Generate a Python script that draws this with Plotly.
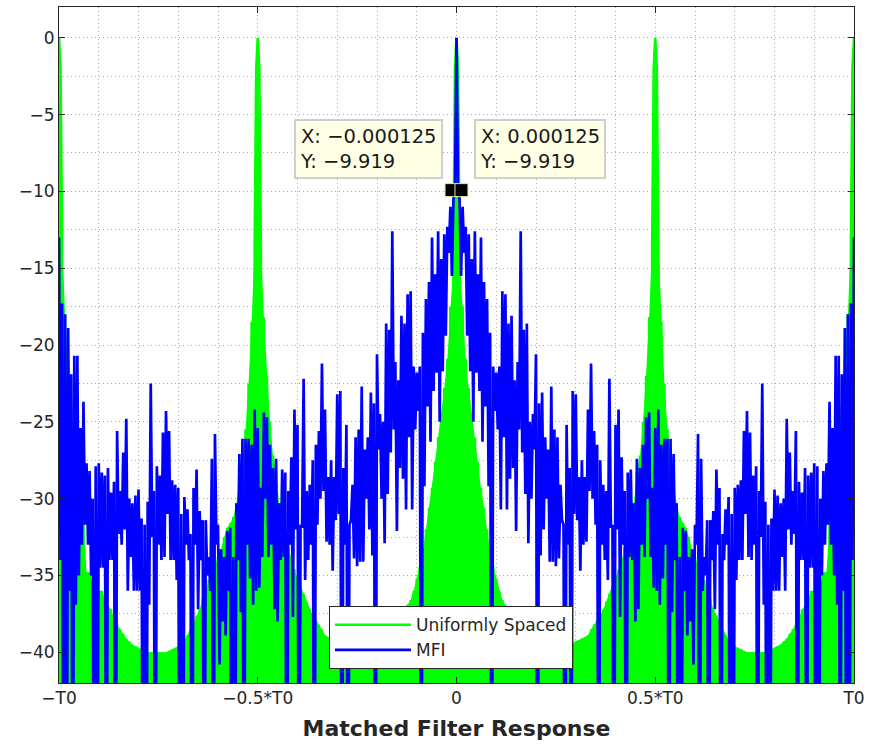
import numpy as np
import plotly.graph_objects as go

# ---------------- data ----------------
T0 = 0.01            # period shown on the x axis (s)
F = -60.0            # null depth (below the visible floor)

# MFI response, half from -T0 towards 0: local maxima and the minima between them
mfi_peaks = [
    -13.0, -17.3, -18.0, -18.9, -21.9, -20.7, -20.7, -25.4, -23.7, -27.7,
    -28.2, -30.0, -27.9, -27.7, -28.3, -28.5, -28.0, -29.6, -28.9, -25.6,
    -29.5, -27.0, -24.8, -30.0, -30.3, -29.8, -29.4, -31.3, -31.7, -30.2,
    -22.5, -29.5, -27.9, -28.5, -25.7, -24.3, -25.6, -28.8, -29.1, -29.3,
    -31.0, -29.9, -30.7, -32.3, -29.3, -28.1, -30.8, -31.4, -31.4, -33.8,
    -27.4, -25.8, -31.7, -33.3, -33.8, -32.1, -31.9, -33.8, -30.3, -27.1,
    -26.1, -26.1, -26.1, -26.5, -24.2, -25.4, -29.3, -24.4, -24.7, -26.5,
    -28.0, -27.4, -30.3, -28.1, -28.3, -29.5, -27.3, -24.2, -25.2, -31.7,
    -22.2, -29.5, -29.1, -27.5, -26.5, -25.6, -21.2, -24.2, -28.6, -27.5,
    -28.6, -23.2, -23.0, -28.0, -25.2, -31.7, -29.1, -26.0, -25.5, -22.7,
    -26.8, -26.0, -23.1, -23.8, -20.6, -24.5, -25.0, -18.6, -19.0, -12.6,
    -21.1, -22.3, -18.1, -18.6, -16.7, -16.5, -21.4, -21.8, -21.4, -19.2,
    -17.0, -15.9, -13.0, -15.4, -12.6, -14.4, -12.8, -12.3, -11.0, -10.5,
]
mfi_troughs = [
    -34.0, F, F, -36.0, F, -36.9, -35.0, -33.0, -31.7, -33.0,
    -35.0, F, F, -34.5, -34.5, F, -34.0, -34.0, F, -32.3,
    -33.0, -32.0, -36.0, -33.8, -36.0, -36.0, -36.0, F, F, -36.9,
    -32.5, F, -33.0, -34.0, -33.8, -31.0, -34.0, -34.0, -35.3, F,
    F, -33.0, -34.0, F, -33.0, -37.2, -34.0, F, -35.0, -36.0,
    F, -33.0, -40.8, -38.0, -38.9, -36.0, F, F, -34.0, -37.4,
    F, -33.0, -35.2, -36.9, -36.0, -35.8, -33.8, -30.0, -33.8, -33.0,
    -37.2, -38.0, -34.0, -33.8, F, -33.0, -37.7, -32.0, F, -31.9,
    -35.3, -34.0, -33.0, F, -31.7, -30.0, -29.5, -32.8, -33.0, -34.7,
    -31.4, -31.0, F, -33.0, F, -31.4, -33.9, -34.4, -34.1, -34.1,
    -30.0, -32.0, -33.7, F, -26.8, -30.0, -32.9, -29.7, -27.0, -25.5,
    -32.1, -28.0, -28.7, -30.7, -26.0, -30.7, -25.5, -24.3, F, -29.2,
    -24.0, -26.3, -23.0, -21.8, -25.0, -21.7, -19.4, -14.0, -15.5, -9.919,
]
mfi_center = 0.0

# Uniformly spaced response, same sampling
uni_peaks = [
    0.0, -13.4, -18.0, -21.0, -24.0, -27.0, -31.0, -32.0, -31.6, -34.8,
    -34.8, -35.5, -35.5, -36.0, -36.0, -36.5, -37.0, -37.2, -37.8, -38.2,
    -38.5, -38.8, -39.1, -39.3, -39.5, -39.6, -39.7, -39.8, -40.0, -40.0,
    -40.0, -40.0, -40.0, -40.0, -40.0, -40.0, -39.9, -39.8, -39.7, -39.6,
    -39.4, -39.2, -38.9, -38.5, -38.1, -37.6, -37.2, -36.5, -36.0, -35.3,
    -34.8, -34.3, -33.8, -33.3, -32.5, -31.9, -31.6, -31.2, -30.3, -29.0,
    -27.5, -25.5, -22.5, -18.5, -13.4, 0.0, -13.4, -18.2, -22.0, -25.0,
    -27.2, -28.3, -30.3, -31.7, -32.4, -33.2, -34.0, -34.6, -35.2, -35.7,
    -36.2, -36.7, -37.2, -37.6, -37.9, -38.2, -38.5, -38.9, -39.0, -39.1,
    -39.2, -39.3, -39.4, -39.5, -39.6, -39.7, -39.7, -39.7, -39.7, -39.6,
    -39.5, -39.4, -39.2, -39.0, -38.7, -38.4, -38.0, -37.8, -37.6, -37.5,
    -37.4, -37.3, -37.2, -37.1, -36.9, -36.6, -36.0, -35.2, -34.4, -33.4,
    -32.0, -30.6, -29.3, -27.6, -26.0, -24.5, -22.8, -20.9, -17.5, -14.7,
]
uni_troughs = [-2.0] + [F] * 63 + [-2.0, -2.0] + [F] * 63 + [-2.0]
uni_center = 0.0

# data tips
tip_x = [-0.000125, 0.000125]
tip_y = [-9.919, -9.919]
tip_text = ["X: \u22120.000125<br>Y: \u22129.919", "X: 0.000125<br>Y: \u22129.919"]

x_tickvals = [-T0, -0.5 * T0, 0, 0.5 * T0, T0]
x_ticktext = ["\u2212T0", "\u22120.5*T0", "0", "0.5*T0", "T0"]


def symmetric_series(peaks, troughs, center):
    half = [v for pair in zip(peaks, troughs) for v in pair]
    return half + [center] + half[::-1]


n_half = 2 * len(mfi_peaks)
dt = T0 / n_half
t = np.arange(-n_half, n_half + 1) * dt
y_uni = symmetric_series(uni_peaks, uni_troughs, uni_center)
y_mfi = symmetric_series(mfi_peaks, mfi_troughs, mfi_center)

# envelope of the dense green oscillation (its maxima), drawn as a filled band
y_env = list(uni_peaks) + [uni_center] + list(uni_peaks[::-1])
t_env = np.concatenate([t[0:n_half:2], [0.0], -t[0:n_half:2][::-1]])

# ---------------- figure ----------------
INK = "#262626"
GRID = "#ababab"
FONT = "DejaVu Sans"
GREEN = "#00ff00"
BLUE = "#0000ff"

fig = go.Figure()
# floor under the green band
fig.add_trace(go.Scatter(x=t, y=[F] * len(t), mode="lines", showlegend=False,
                         hoverinfo="skip", line=dict(width=0, color=GREEN)))
fig.add_trace(go.Scatter(x=t_env, y=y_env, mode="lines", showlegend=False,
                         hoverinfo="skip", fill="tonexty", fillcolor=GREEN,
                         line=dict(width=0, color=GREEN)))
fig.add_trace(go.Scatter(x=t, y=y_uni, mode="lines", name="Uniformly Spaced",
                         line=dict(color=GREEN, width=2.6)))
fig.add_trace(go.Scatter(x=t, y=y_mfi, mode="lines", name="MFI",
                         line=dict(color=BLUE, width=2.7)))
fig.add_trace(go.Scatter(x=tip_x, y=tip_y, mode="markers", showlegend=False,
                         marker=dict(symbol="square", size=13, color="black",
                                     line=dict(color="#e8e4b0", width=1))))

for i, (tx, ty, txt) in enumerate(zip(tip_x, tip_y, tip_text)):
    fig.add_annotation(
        x=(-0.00035 if i == 0 else 0.00043), y=-5.27, xref="x", yref="y",
        xanchor=("right" if i == 0 else "left"), yanchor="top",
        text=txt, showarrow=False, align="left",
        font=dict(family=FONT, size=19.5, color="#1a1a1a"),
        bgcolor="#ffffe6", bordercolor="#cfcfcf", borderwidth=2, borderpad=4,
    )

axis_common = dict(
    showline=True, linecolor=INK, linewidth=1, mirror="ticks",
    ticks="inside", ticklen=6, tickcolor=INK, tickwidth=1,
    showgrid=True, gridcolor=GRID, gridwidth=1, griddash="1px,3px",
    zeroline=False,
    tickfont=dict(family=FONT, size=17, color=INK),
)

fig.update_xaxes(
    range=[-T0, T0], tickmode="array", tickvals=x_tickvals, ticktext=x_ticktext,
    minor=dict(tick0=0, dtick=0.1 * T0, showgrid=True, gridcolor=GRID,
               griddash="1px,3px", gridwidth=1, ticks=""),
    title=dict(text="<b>Matched Filter Response</b>", standoff=13,
               font=dict(family=FONT, size=22, color=INK)),
    **axis_common,
)
fig.update_yaxes(
    range=[-42, 2], tick0=0, dtick=5,
    minor=dict(tick0=0, dtick=2.5, showgrid=True, gridcolor=GRID,
               griddash="1px,3px", gridwidth=1, ticks=""),
    **axis_common,
)

fig.update_layout(
    width=871, height=747,
    margin=dict(l=59, r=14, t=6, b=64),
    paper_bgcolor="white", plot_bgcolor="white",
    font=dict(family=FONT, color=INK),
    showlegend=True,
    legend=dict(x=0.3396, y=0.1137, xanchor="left", yanchor="top",
                traceorder="normal",
                bgcolor="white", bordercolor=INK, borderwidth=1,
                font=dict(family=FONT, size=17, color=INK),
                itemwidth=76, tracegroupgap=0),
)

fig.write_html("out.html")
